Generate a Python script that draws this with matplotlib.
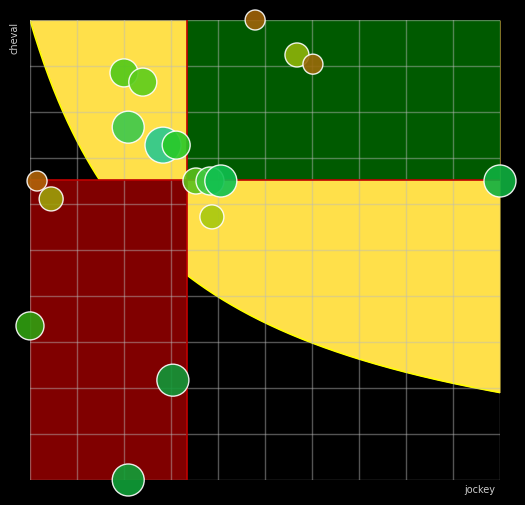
import numpy as np
import matplotlib
matplotlib.use("Agg")
import matplotlib.pyplot as plt
from matplotlib.patches import Rectangle

# data
jockey = [0.479, 0.568, 0.602, 0.200, 0.240, 0.209, 0.283, 0.311, 0.015, 0.045,
          0.353, 0.383, 0.406, 0.387, 1.000, 0.000, 0.304, 0.209]
cheval = [1.000, 0.924, 0.904, 0.885, 0.865, 0.767, 0.728, 0.728, 0.650, 0.611,
          0.650, 0.650, 0.650, 0.572, 0.650, 0.335, 0.217, 0.000]
radius = [10, 12, 10, 14, 14, 16, 18, 14, 10, 12, 13, 14, 16, 12, 16, 14, 16, 16]
colors = ['#a0640a', '#8fb40a', '#9a6a0a', '#50c818', '#5ccc1c', '#3cc84c', '#28c890', '#28c828',
          '#b0640a', '#9ca00a', '#5cc01c', '#40c840', '#10c050', '#a8c810', '#10b040', '#30a010',
          '#109838', '#10a038']
x_split = 1/3
y_split = 0.652

fig = plt.figure(figsize=(5.25, 5.05), dpi=100, facecolor='black')
ax = fig.add_axes([30/525, 25/505, 470/525, 460/505])
ax.set_facecolor('black')
ax.set_xlim(0, 1); ax.set_ylim(0, 1)

# yellow region above hyperbolic curve
a, b, c = 0.316, 0.3, -0.053
xs = np.linspace(0, 1, 400)
ys = c + a/(xs + b)
ax.fill_between(xs, ys, 1, color='#ffe04a', lw=0, zorder=1)
ax.plot(xs, ys, color='yellow', lw=1.2, zorder=1)
ax.add_patch(Rectangle((0, 0), x_split, y_split, color='#800000', lw=0, zorder=2))
ax.add_patch(Rectangle((x_split, y_split), 1-x_split, 1-y_split, color='#005a00', lw=0, zorder=2))
ax.plot([x_split, x_split], [0, 1], color='#c00000', lw=1.2, zorder=3)
ax.plot([0, 1], [y_split, y_split], color='#c00000', lw=1.2, zorder=3)

ax.set_xticks(np.linspace(0, 1, 11)); ax.set_yticks(np.linspace(0, 1, 11))
ax.grid(True, color='#bbbbbb', alpha=0.45, lw=1, zorder=4)
ax.set_axisbelow(False)
ax.tick_params(length=0, labelbottom=False, labelleft=False)
for s in ax.spines.values(): s.set_visible(False)

sizes = [(2*r*0.72)**2 for r in radius]
ax.scatter(jockey, cheval, s=sizes, c=colors, edgecolors='white', linewidths=1,
           alpha=0.9, zorder=5, clip_on=False)

fig.text(495/525, 1-490/505, 'jockey', color='#cccccc', fontsize=7, ha='right', va='center')
fig.text(15/525, 1-38/505, 'cheval', color='#cccccc', fontsize=7, rotation=90, ha='center', va='center')
fig.savefig('out.png', dpi=100, facecolor='black')
